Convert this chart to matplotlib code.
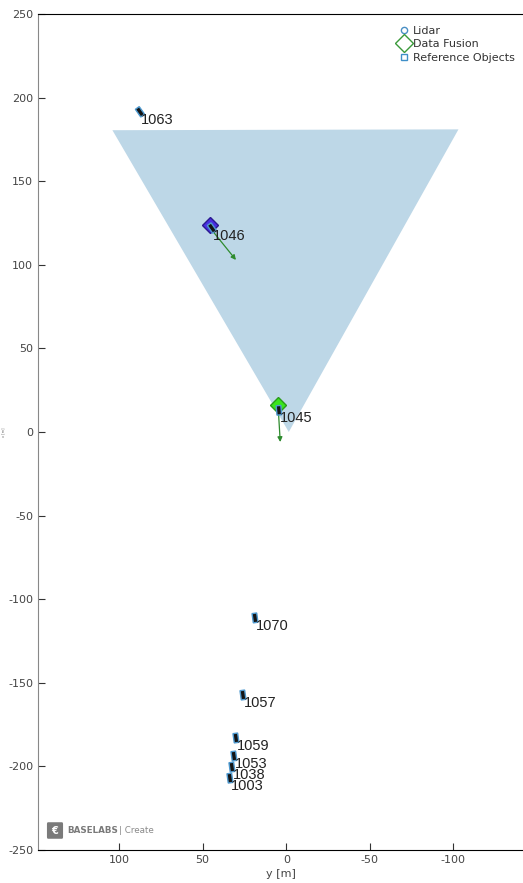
import matplotlib.pyplot as plt
from matplotlib.patches import Rectangle, Polygon, FancyBboxPatch
import numpy as np

plt.rcParams["axes.unicode_minus"] = False

# sensor field of view (y, x) corners
fov_y = [104.0, -103.0, -1.5]
fov_x = [180.5, 181.0, 0.0]

# reference objects: id, y position, x position, heading angle (deg)
obj_ids = ["1063", "1046", "1045", "1070", "1057", "1059", "1053", "1038", "1003"]
obj_y = [87.5, 44.5, 4.4, 18.7, 25.9, 30.1, 31.3, 32.5, 33.7]
obj_x = [191.5, 122.0, 13.0, -111.2, -157.3, -183.0, -193.8, -200.4, -207.0]
obj_angle = [-35, -35, -5, -8, -8, -8, -8, -8, -8]

# data fusion tracks
fus_y = [45.5, 4.8]
fus_x = [124.0, 16.0]
fus_color = ["#4a2fe0", "#3be51c"]
fus_edge = ["#2a1a90", "#2a9a1a"]
# velocity arrow end points
vel_y = [30.1, 3.6]
vel_x = [102.9, -6.0]

fig = plt.figure(figsize=(5.23, 8.83), dpi=100)
ax = fig.add_axes([38 / 523, 33 / 883, 485 / 523, 836 / 883])

ax.add_patch(Polygon(np.column_stack([fov_y, fov_x]), closed=True,
                     facecolor="#bdd7e7", edgecolor="none", zorder=1))

for i in range(len(fus_y)):
    ax.annotate("", xy=(vel_y[i], vel_x[i]), xytext=(fus_y[i], fus_x[i] - 2),
                arrowprops=dict(arrowstyle="-|>", color="#2e8b2e", lw=0.9,
                                mutation_scale=7, shrinkA=0, shrinkB=0), zorder=3)
    ax.plot(fus_y[i], fus_x[i], marker="D", ms=8, mfc=fus_color[i],
            mec=fus_edge[i], mew=1.0, zorder=4, ls="none")

for oid, y, x, a in zip(obj_ids, obj_y, obj_x, obj_angle):
    ax.add_patch(Rectangle((y - 1.4, x - 2.8), 2.8, 5.6, angle=a,
                           rotation_point="center", facecolor="#141414",
                           edgecolor="#4f9ad0", lw=1.0, zorder=5))
    ax.text(y - 0.5, x - 0.5, oid, ha="left", va="top", fontsize=10.5,
            family="Liberation Sans", color="#222222", zorder=6)

# legend proxies
ax.plot([], [], marker="o", ms=4.5, mfc="none", mec="#4a8fc4", ls="none", label="Lidar")
ax.plot([], [], marker="D", ms=9, mfc="white", mec="#3a9a3a", ls="none", label="Data Fusion")
ax.plot([], [], marker="s", ms=4.5, mfc="none", mec="#3f8fc8", ls="none", label="Reference Objects")
ax.legend(loc="upper right", frameon=False, fontsize=8, handletextpad=0.2,
          labelspacing=0.3, borderaxespad=0.3, handlelength=1.2,
          labelcolor="#333333", bbox_to_anchor=(1.0, 0.995))

ax.set_xlim(148.5, -141.6)
ax.set_ylim(-250, 250)
ax.set_xticks([100, 50, 0, -50, -100])
ax.set_yticks(np.arange(-250, 251, 50))
ax.tick_params(direction="in", length=5, labelsize=8, labelcolor="#444444", color="#333333")
ax.spines["right"].set_visible(False)
ax.spines["left"].set_color("#888888")
ax.set_xlabel("y [m]", fontsize=8, color="#444444", labelpad=3)
ax.set_ylabel("x [m]", fontsize=2.5, color="#666666", labelpad=2)

# logo
fig.patches.append(FancyBboxPatch((48 / 523, 46 / 883), 14 / 523, 13 / 883,
                                  boxstyle="round,pad=0.002", transform=fig.transFigure,
                                  facecolor="#7a7a7a", edgecolor="none"))
fig.text(55 / 523, 52.5 / 883, "€", fontsize=7, color="white", ha="center", va="center",
         fontweight="bold")
fig.text(67 / 523, 52.5 / 883, "BASELABS", fontsize=6.3, color="#7a7a7a",
         fontweight="bold", va="center")
fig.text(119 / 523, 52.5 / 883, "| Create", fontsize=6.3, color="#8a8a8a", va="center")

fig.savefig("out.png", dpi=100)
